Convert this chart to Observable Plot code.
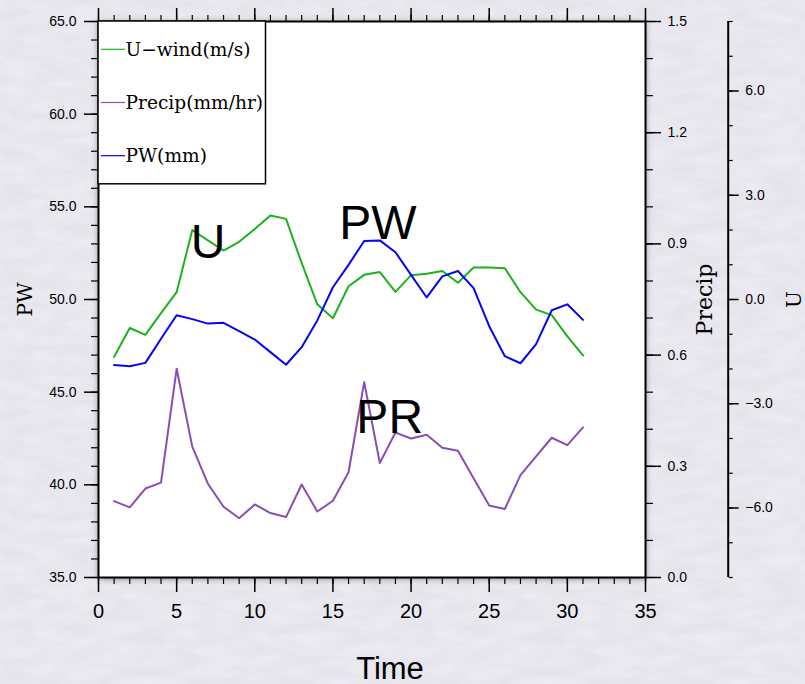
<!DOCTYPE html>
<html>
<head>
<meta charset="utf-8">
<script src="https://cdn.jsdelivr.net/npm/d3@7"></script>
<script src="https://cdn.jsdelivr.net/npm/@observablehq/plot@0.6"></script>
<style>
html, body { margin: 0; padding: 0; }
body {
  background-color: #ecebf2;
  background-image: url("data:image/svg+xml;utf8,<svg xmlns='http://www.w3.org/2000/svg' width='400' height='400'><filter id='n'><feTurbulence type='fractalNoise' baseFrequency='0.03 0.09' numOctaves='4' seed='3'/><feColorMatrix values='0 0 0 0 0.55  0 0 0 0 0.55  0 0 0 0 0.6  0 0 0 0.35 -0.08'/></filter><rect width='100%' height='100%' filter='url(%23n)'/></svg>");
}
#chart { position: relative; width: 805px; height: 684px; overflow: hidden; }
</style>
</head>
<body>
<div id="chart"></div>
<script>
// ---- data ----
const time = [1,2,3,4,5,6,7,8,9,10,11,12,13,14,15,16,17,18,19,20,21,22,23,24,25,26,27,28,29,30,31];
const uWind = [-1.65,-0.82,-1.02,-0.39,0.21,2.00,1.70,1.41,1.66,2.03,2.42,2.32,1.05,-0.14,-0.54,0.38,0.71,0.79,0.22,0.70,0.74,0.82,0.48,0.92,0.92,0.90,0.21,-0.29,-0.45,-1.06,-1.61];
const pw = [46.46,46.40,46.58,47.88,49.15,48.94,48.70,48.74,48.29,47.84,47.16,46.48,47.43,48.87,50.66,51.87,53.16,53.19,52.55,51.33,50.11,51.25,51.54,50.61,48.56,46.94,46.56,47.59,49.42,49.74,48.90];
const precip = [0.206,0.189,0.240,0.256,0.563,0.353,0.253,0.191,0.160,0.197,0.174,0.163,0.251,0.178,0.207,0.284,0.527,0.309,0.391,0.375,0.385,0.350,0.342,0.268,0.194,0.185,0.276,0.327,0.377,0.357,0.405];

const legendNames = ["U\u2212wind(m/s)", "Precip(mm/hr)", "PW(mm)"];
const xTicks = [0,5,10,15,20,25,30,35];
const pwTicks = [35,40,45,50,55,60,65];
const precipTicks = [0,0.3,0.6,0.9,1.2,1.5];
const uTicks = [-6,-3,0,3,6];

// ---- scale mapping for secondary axes (all drawn on the PW scale) ----
const pwDomain = [35, 65], precipDomain = [0, 1.5], uDomain = [-8, 8];
const lin = (a, b) => d3.scaleLinear().domain(a).range(b);
const precipToPW = lin(precipDomain, pwDomain), pwToPrecip = lin(pwDomain, precipDomain);
const uToPW = lin(uDomain, pwDomain), pwToU = lin(pwDomain, uDomain);

const colors = {u: "#1eb11e", precip: "#8a4db5", pw: "#0505f0"};

const rows = time.map((t, i) => ({t, u: uWind[i], pw: pw[i], precip: precip[i]}));

const fmt1 = d3.format(".1f");
const blank = () => "";
const minorX = d3.range(0, 36, 1);
const minorPW = d3.range(35, 66, 1);
const minorPrecip = d3.range(0, 1.51, 0.1).map(precipToPW);
const minorU = d3.range(-8, 9, 1).map(uToPW);

const W = 805, H = 684;
const mL = 98, mR = 160, mT = 21, mB = 107;
const offU = 82.7;
const serif = "'DejaVu Serif', serif";

const plot = Plot.plot({
  width: W, height: H,
  marginLeft: mL, marginRight: mR, marginTop: mT, marginBottom: mB,
  style: {background: "transparent", fontFamily: "'Liberation Sans', Arial, sans-serif", fontSize: "14px", color: "black", overflow: "visible"},
  x: {domain: [0, 35]},
  y: {domain: pwDomain},
  marks: [
    Plot.frame({fill: "white", stroke: null}),
    Plot.line(rows, {x: "t", y: d => uToPW(d.u), stroke: colors.u, strokeWidth: 2}),
    Plot.line(rows, {x: "t", y: "pw", stroke: colors.pw, strokeWidth: 2}),
    Plot.line(rows, {x: "t", y: d => precipToPW(d.precip), stroke: colors.precip, strokeWidth: 2}),

    // in-plot labels
    Plot.text(["U"], {text: d => d, x: 5.9, y: 52.23, textAnchor: "start", lineAnchor: "bottom", fontSize: 48}),
    Plot.text(["PW"], {text: d => d, x: 15.4, y: 53.26, textAnchor: "start", lineAnchor: "bottom", fontSize: 48}),
    Plot.text(["PR"], {text: d => d, x: 16.5, y: 42.78, textAnchor: "start", lineAnchor: "bottom", fontSize: 48}),

    // bottom x axis
    Plot.axisX({anchor: "bottom", ticks: xTicks, tickSize: 15, tickPadding: 11, fontSize: 20, strokeWidth: 1.5, tickFormat: d3.format("d"), label: null}),
    Plot.axisX({anchor: "bottom", ticks: minorX, tickSize: 7, strokeWidth: 1.2, tickFormat: blank, label: null}),
    // top x axis (ticks only)
    Plot.axisX({anchor: "top", ticks: xTicks, tickSize: 14, strokeWidth: 1.5, tickFormat: blank, label: null}),
    Plot.axisX({anchor: "top", ticks: minorX, tickSize: 7, strokeWidth: 1.2, tickFormat: blank, label: null}),
    // left PW axis
    Plot.axisY({anchor: "left", ticks: pwTicks, tickSize: 14, tickPadding: 8, fontSize: 14, strokeWidth: 1.5, tickFormat: fmt1, label: null}),
    Plot.axisY({anchor: "left", ticks: minorPW, tickSize: 7, strokeWidth: 1.2, tickFormat: blank, label: null}),
    // right Precip axis
    Plot.axisY({anchor: "right", ticks: precipTicks.map(precipToPW), tickSize: 15, tickPadding: 7, fontSize: 14, strokeWidth: 1.5, tickFormat: v => fmt1(pwToPrecip(v)), label: null}),
    Plot.axisY({anchor: "right", ticks: minorPrecip, tickSize: 7, strokeWidth: 1.2, tickFormat: blank, label: null}),
    // far right U axis
    Plot.ruleX([35], {y1: pwDomain[0], y2: pwDomain[1], dx: offU, strokeWidth: 2}),
    Plot.axisY({anchor: "right", ticks: uTicks.map(uToPW), dx: offU, tickSize: 10, tickPadding: 7, fontSize: 14, strokeWidth: 1.5, tickFormat: v => fmt1(Math.round(pwToU(v) * 10) / 10), label: null}),
    Plot.axisY({anchor: "right", ticks: minorU, dx: offU, tickSize: 4, strokeWidth: 1.2, tickFormat: blank, label: null}),

    // axis titles
    Plot.text(["PW"], {text: d => d, frameAnchor: "left", dx: -72.5, rotate: -90, textAnchor: "middle", lineAnchor: "middle", fontFamily: serif, fontSize: 20}),
    Plot.text(["Precip"], {text: d => d, frameAnchor: "right", dx: 59, rotate: -90, textAnchor: "middle", lineAnchor: "middle", fontFamily: serif, fontSize: 22}),
    Plot.text(["U"], {text: d => d, frameAnchor: "right", dx: 149.5, rotate: -90, textAnchor: "middle", lineAnchor: "middle", fontFamily: serif, fontSize: 20}),
    Plot.text(["Time"], {text: d => d, frameAnchor: "bottom", dx: 18, dy: 101, textAnchor: "middle", lineAnchor: "bottom", fontSize: 31}),

    Plot.frame({stroke: "black", strokeWidth: 2})
  ]
});

// subtle shadow under the plot area
const frames = plot.querySelectorAll('[aria-label="frame"]');
if (frames.length) frames[0].style.filter = "drop-shadow(0px 1px 3px rgba(0,0,0,0.45))";

// legend box (top-left of the plot area)
const xs = plot.scale("x"), ys = plot.scale("y");
const x0 = xs.apply(0), y0 = ys.apply(65);
const lg = d3.select(plot).append("g").attr("aria-label", "legend");
lg.append("rect").attr("x", x0).attr("y", y0).attr("width", 167.5).attr("height", 162.8)
  .attr("fill", "white").attr("stroke", "black").attr("stroke-width", 1.5);
const legendColors = [colors.u, colors.precip, colors.pw];
legendNames.forEach((name, i) => {
  const yy = y0 + 28.3 + i * 53.2;
  lg.append("line").attr("x1", x0 + 3).attr("x2", x0 + 27).attr("y1", yy).attr("y2", yy)
    .attr("stroke", legendColors[i]).attr("stroke-width", 1.2);
  lg.append("text").attr("x", x0 + 27.5).attr("y", yy + 6.5)
    .attr("text-anchor", "start")
    .attr("font-family", serif).attr("font-size", 18.6).attr("fill", "black")
    .text(name);
});

document.getElementById("chart").appendChild(plot);
</script>
</body>
</html>
